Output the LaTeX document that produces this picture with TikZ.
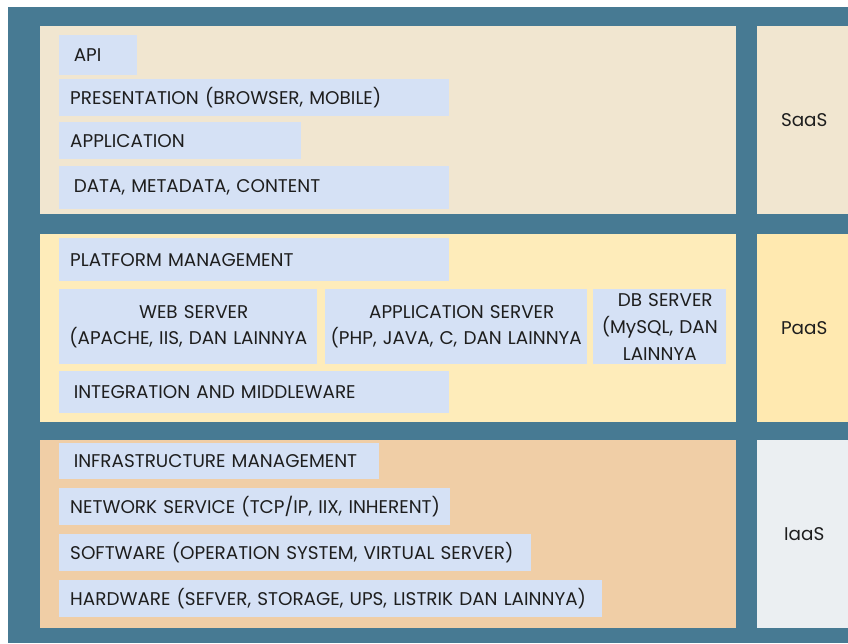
\documentclass[tikz,border=0pt]{standalone}
\usepackage{fontspec}
\setmainfont{Poppins}
\usepackage{xcolor}
\usepackage{tikz}
\usetikzlibrary{positioning}
\definecolor{bgblue}{RGB}{71,122,147}
\definecolor{saasc}{RGB}{241,230,208}
\definecolor{paasc}{RGB}{254,236,186}
\definecolor{paasr}{RGB}{255,233,176}
\definecolor{iaasc}{RGB}{240,206,166}
\definecolor{iaasr}{RGB}{235,239,242}
\definecolor{itemc}{RGB}{213,225,245}
\definecolor{ink}{RGB}{30,30,30}

\begin{document}
\begin{tikzpicture}[x=0.03cm, y=-0.03cm,
  layer/.style={fill=#1, anchor=north west, inner sep=0pt, minimum width=20.88cm, minimum height=5.62cm},
  tag/.style={anchor=north west, inner sep=0pt, minimum width=2.82cm, minimum height=5.62cm, font=\fontsize{15.7}{18}\selectfont, text=ink},
  item/.style={fill=itemc, anchor=north west, inner sep=0pt, align=left, font=\fontsize{15.7}{18}\selectfont, text=ink,
    execute at begin node={\hspace*{0.33cm}}},
  duo/.style={item, align=center, inner xsep=0.1cm, execute at begin node={}, font=\fontsize{15.7}{23}\selectfont}]
\useasboundingbox (0,0) rectangle (848,643);
\fill[white] (0,0) rectangle (848,643);
\fill[bgblue] (8,7) rectangle (848,643);
% three layers
\node[layer=saasc] (saas) at (40,26) {};
\node[layer=paasc] (paas) at (40,234) {};
\node[layer=iaasc] (iaas) at (40,440) {};
\node[tag, fill=saasc] (saasl) at (757,26) {SaaS};
\node[tag, fill=paasr] (paasl) at (757,234) {PaaS};
\node[tag, fill=iaasr] (iaasl) at (757,440) {IaaS};
% SaaS
\node[item, text width=2.34cm, minimum height=1.2cm] (api) at (59,35) {\hspace*{3pt}API};
\node[item, text width=11.7cm, minimum height=1.11cm] (pres) at (59,79) {PRESENTATION (BROWSER, MOBILE)};
\node[item, text width=7.26cm, minimum height=1.11cm] (app) at (59,122) {APPLICATION};
\node[item, text width=11.7cm, minimum height=1.29cm] (data) at (59,166) {\hspace*{3pt}DATA, METADATA, CONTENT};
% PaaS
\node[item, text width=11.7cm, minimum height=1.29cm] (plat) at (59,238) {PLATFORM MANAGEMENT};
\node[duo, text width=7.54cm, minimum height=2.25cm] (web) at (59,289) {WEB SERVER\\(APACHE, IIS, DAN LAINNYA};
\node[duo, text width=7.66cm, minimum height=2.25cm] (apsv) at (325,289) {APPLICATION SERVER\\(PHP, JAVA, C, DAN LAINNYA};
\node[duo, text width=3.79cm, minimum height=2.25cm] (db) at (593,289) {DB SERVER\\(MySQL, DAN\\LAINNYA};
\node[item, text width=11.7cm, minimum height=1.26cm] (integ) at (59,371) {\hspace*{3pt}INTEGRATION AND MIDDLEWARE};
% IaaS
\node[item, text width=9.6cm, minimum height=1.08cm] (infra) at (59,443) {\hspace*{3pt}INFRASTRUCTURE MANAGEMENT};
\node[item, text width=11.73cm, minimum height=1.11cm] (net) at (59,488) {NETWORK SERVICE (TCP/IP, IIX, INHERENT)};
\node[item, text width=14.16cm, minimum height=1.11cm] (soft) at (59,534) {SOFTWARE (OPERATION SYSTEM, VIRTUAL SERVER)};
\node[item, text width=16.29cm, minimum height=1.11cm] (hard) at (59,580) {HARDWARE (SEFVER, STORAGE, UPS, LISTRIK DAN LAINNYA)};
\end{tikzpicture}
\end{document}
